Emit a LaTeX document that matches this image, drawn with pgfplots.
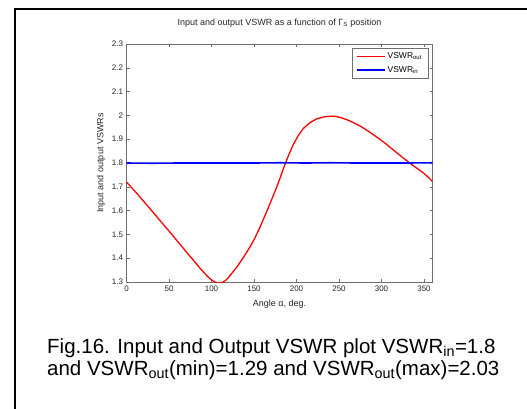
\documentclass[border=0pt]{standalone}
\usepackage{pgfplots}
\pgfplotsset{compat=1.18}
\usepackage{fontspec}
\setmainfont{Liberation Sans}
\definecolor{mred}{RGB}{255,0,0}
\definecolor{mblue}{RGB}{0,0,255}
\definecolor{axgray}{RGB}{110,110,110}

\begin{document}
\begin{tikzpicture}[x=1pt,y=1pt]
\useasboundingbox (0,0) rectangle (527,-408);
\fill[white] (0,0) rectangle (527,-408);
\draw[line width=2pt] (15,-409) -- (15,-9) -- (528,-9);
\begin{axis}[
  at={(126.5pt,-282pt)}, anchor=south west,
  scale only axis, width=306pt, height=238pt,
  xmin=0, xmax=360, ymin=1.3, ymax=2.3,
  xtick={0,50,100,150,200,250,300,350},
  ytick={1.3,1.4,1.5,1.6,1.7,1.8,1.9,2,2.1,2.2,2.3},
  tick align=inside, major tick length=3pt,
  axis line style={axgray, line width=0.9pt},
  tick style={axgray, line width=0.6pt},
  ticklabel style={font=\fontsize{8}{9}\selectfont, text=black!85},
  /pgf/number format/assume math mode=true,
  yticklabel style={/pgf/number format/fixed},
  xlabel={Angle α, deg.},
  ylabel={Input and output VSWRs},
  title={Input and output VSWR as a function of Γ\textsubscript{S} position},
  label style={font=\fontsize{9}{10}\selectfont, text=black!85},
  title style={font=\fontsize{9}{10}\selectfont, text=black!85, at={(0.5,1)}, anchor=base, yshift=13pt},
  xlabel style={at={(axis description cs:0.5,0)}, anchor=base, yshift=-24pt},
  ylabel style={at={(axis description cs:-0.0833,0.5)}, anchor=center},
  legend style={at={(0.986,0.985)}, anchor=north east, draw=axgray, line width=0.6pt,
    font=\fontsize{8.5}{10}\selectfont, cells={anchor=west}, inner xsep=4pt, inner ysep=3pt, row sep=2pt},
  legend image code/.code={\draw[mark repeat=2,mark phase=2] plot coordinates {(0pt,0pt) (14pt,0pt) (28pt,0pt)};},
]
\addplot[mred, line width=1.3pt] coordinates {
 (0,1.720) (10,1.681) (20,1.640) (30,1.598) (40,1.556) (50,1.514) (60,1.471)
 (70,1.428) (80,1.386) (86,1.360) (92,1.336) (96,1.321) (100,1.309) (104,1.300)
 (108,1.295) (112,1.297) (116,1.305) (120,1.319) (124,1.337) (130,1.364) (136,1.395)
 (143,1.434) (150,1.477) (157,1.530) (164,1.588) (170,1.640) (176,1.692) (181,1.740)
 (186,1.790) (191,1.835) (196,1.876) (202,1.915) (208,1.945) (216,1.970) (224,1.986)
 (234,1.995) (244,1.997) (252,1.991) (260,1.981) (268,1.968) (276,1.953) (286,1.930)
 (296,1.905) (306,1.878) (316,1.849) (326,1.820) (336,1.792) (344,1.772) (350,1.756)
 (356,1.737) (360,1.722)};
\addplot[mblue, line width=1.6pt] coordinates {
 (0,1.800) (30,1.799) (60,1.800) (90,1.800) (120,1.800) (150,1.800) (180,1.801)
 (210,1.800) (240,1.801) (270,1.800) (300,1.800) (330,1.800) (360,1.801)};
\legend{VSWR\textsubscript{out}, VSWR\textsubscript{in}}
\end{axis}
\node[anchor=base west, inner sep=0, font=\fontsize{20.5}{22}\selectfont] at (47,-353)
  {Fig.16. Input and Output VSWR plot VSWR\textsubscript{in}=1.8};
\node[anchor=base west, inner sep=0, font=\fontsize{20.5}{22}\selectfont] at (47,-375)
  {and VSWR\textsubscript{out}(min)=1.29 and VSWR\textsubscript{out}(max)=2.03};
\end{tikzpicture}
\end{document}
